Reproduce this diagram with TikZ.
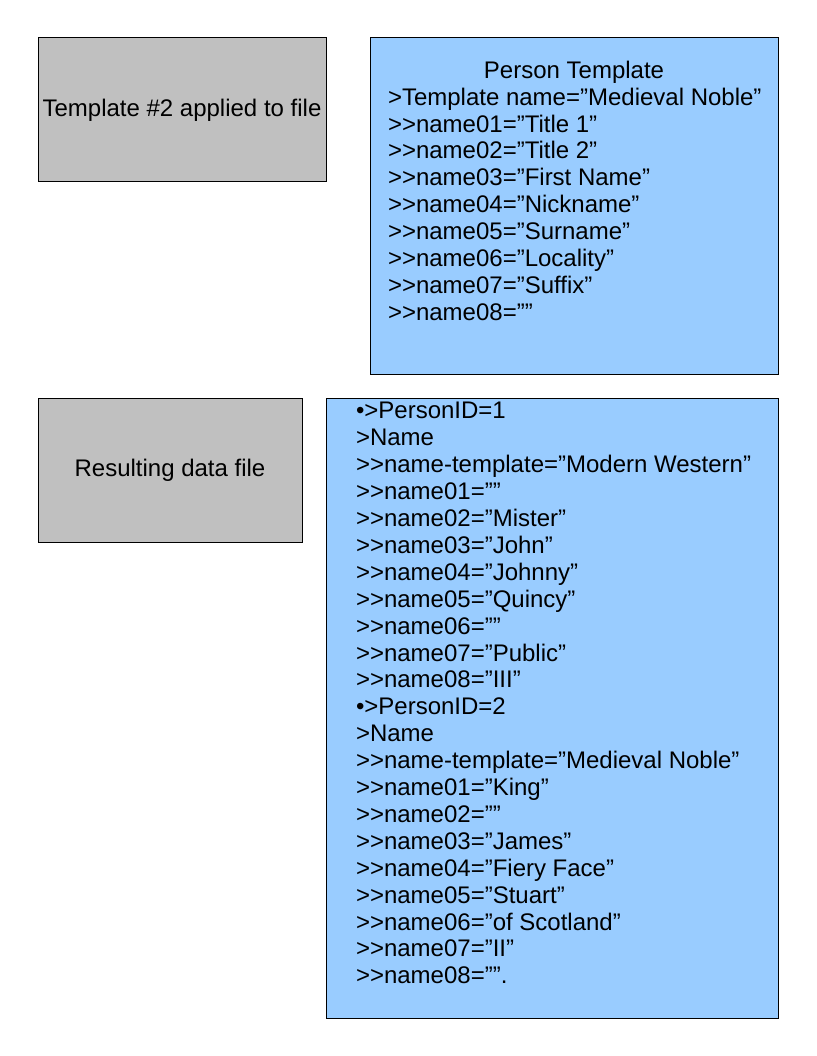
\documentclass[tikz,border=0pt]{standalone}
\usepackage{fontspec}
\setmainfont{Liberation Sans}[Ligatures=TeXOff]
\definecolor{boxgray}{HTML}{C0C0C0}
\definecolor{boxblue}{HTML}{99CCFF}
\tikzset{
  panel/.style={draw=black, line width=1pt, outer sep=0pt, inner sep=0pt, anchor=north west},
  graypanel/.style={panel, fill=boxgray},
  bluepanel/.style={panel, fill=boxblue},
  txt/.style={font=\fontsize{24}{27}\selectfont, inner sep=0pt, outer sep=0pt},
  textline/.style={txt, anchor=base west},
}
\begin{document}
\begin{tikzpicture}[x=1pt,y=-1pt]
\useasboundingbox (0,0) rectangle (816,1056);
% panels
\node[graypanel, minimum width=288pt, minimum height=144pt] (g1) at (38,38) {};
\node[bluepanel, minimum width=408pt, minimum height=336pt] (b1) at (370,38) {};
\node[graypanel, minimum width=264pt, minimum height=144pt] (g2) at (38,398) {};
\node[bluepanel, minimum width=452pt, minimum height=620pt] (b2) at (326,398) {};
% gray texts
\node[txt] (g1t) at (g1.center) {Template \#2 applied to file};
\node[txt] (g2t) at (g2.center) {Resulting data file};
% blue box 1
\node[txt, anchor=base] (b1title) at (574,78.5) {Person Template};
\foreach \t [count=\i from 0] in {%
  >Template name=”Medieval Noble”,
  >>name01=”Title 1”,
  >>name02=”Title 2”,
  >>name03=”First Name”,
  >>name04=”Nickname”,
  >>name05=”Surname”,
  >>name06=”Locality”,
  >>name07=”Suffix”,
  >>name08=””}
  \node[textline] (b1l\i) at (388,{105.2+26.9*\i}) {\t};
% blue box 2
\foreach \t [count=\i from 0] in {%
  •>PersonID=1,
  >Name,
  >>name-template=”Modern Western”,
  >>name01=””,
  >>name02=”Mister”,
  >>name03=”John”,
  >>name04=”Johnny”,
  >>name05=”Quincy”,
  >>name06=””,
  >>name07=”Public”,
  >>name08=”III”,
  •>PersonID=2,
  >Name,
  >>name-template=”Medieval Noble”,
  >>name01=”King”,
  >>name02=””,
  >>name03=”James”,
  >>name04=”Fiery Face”,
  >>name05=”Stuart”,
  >>name06=”of Scotland”,
  >>name07=”II”,
  >>name08=””.}
  \node[textline] (b2l\i) at (356,{418.9+26.9*\i}) {\t};
\end{tikzpicture}
\end{document}
